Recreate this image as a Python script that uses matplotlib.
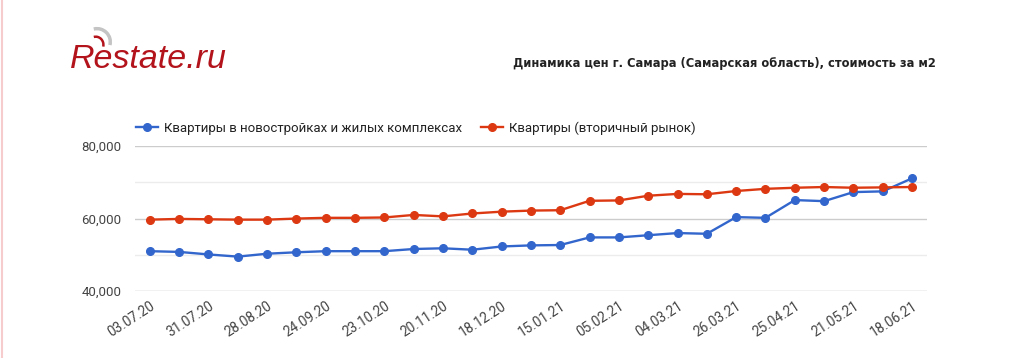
import matplotlib.pyplot as plt
from matplotlib.patches import Arc
from matplotlib.lines import Line2D

# Data (руб. за м2)
dates = ['03.07.20', '', '31.07.20', '', '28.08.20', '', '24.09.20', '', '23.10.20', '',
         '20.11.20', '', '18.12.20', '', '15.01.21', '', '05.02.21', '', '04.03.21', '',
         '26.03.21', '', '25.04.21', '', '21.05.21', '', '18.06.21']
new_flats = [51000, 50800, 50100, 49500, 50300, 50700, 51000, 51000, 51000, 51600,
             51800, 51400, 52300, 52600, 52700, 54800, 54800, 55400, 56000, 55800,
             60400, 60200, 65100, 64800, 67300, 67500, 71100]
resale = [59700, 59900, 59800, 59700, 59700, 60000, 60200, 60200, 60300, 61000,
          60600, 61400, 61900, 62200, 62300, 64900, 65000, 66300, 66800, 66700,
          67600, 68200, 68500, 68700, 68500, 68600, 68700]

blue = '#3366cc'
red = '#dc3912'
x = list(range(len(new_flats)))

fig = plt.figure(figsize=(10.24, 3.58), dpi=100)
ax = fig.add_axes([0.132, 0.187, 0.773, 0.405])

# gridlines
for v in [50000, 70000]:
    ax.axhline(v, color='#ececec', lw=1, zorder=0)
for v in [60000, 80000]:
    ax.axhline(v, color='#cccccc', lw=1, zorder=0)
ax.axhline(40000, color='#bbbbbb', lw=1, zorder=0)

ax.plot(x, new_flats, color=blue, lw=1.7, marker='o', ms=5.5,
        label='Квартиры в новостройках и жилых комплексах')
ax.plot(x, resale, color=red, lw=1.7, marker='o', ms=5.5,
        label='Квартиры (вторичный рынок)')

ax.set_xlim(-0.5, len(x) - 0.5)
ax.set_ylim(40000, 80000)
ax.set_yticks([40000, 60000, 80000])
ax.set_yticklabels(['40,000', '60,000', '80,000'], fontsize=9.5, color='#444444',
                   family='Roboto')
ax.set_xticks(x)
ax.set_xticklabels(dates, rotation=33, ha='right', va='top', rotation_mode='anchor',
                   fontsize=9.8, color='#444444', family='Roboto')
ax.tick_params(length=0, pad=6)
ax.tick_params(axis='y', pad=10)
for s in ax.spines.values():
    s.set_visible(False)

leg = ax.legend(loc='lower left', bbox_to_anchor=(-0.005, 1.04), ncol=2, frameon=False,
                prop={'family': 'Roboto', 'size': 9.5}, handlelength=1.6,
                handletextpad=0.45, columnspacing=1.5, borderaxespad=0)
for t in leg.get_texts():
    t.set_color('#222222')

# title
fig.text(0.914, 0.823, 'Динамика цен г. Самара (Самарская область), стоимость за м2',
         ha='right', va='center', fontsize=9.2, fontweight='bold', color='#222222',
         family=['Liberation Sans Narrow', 'DejaVu Sans'], fontstretch='condensed')

# logo
fig.text(0.068, 0.81, 'Restate.ru', ha='left', va='baseline', fontsize=24.5,
         style='italic', color='#b3141c', family='Liberation Sans')
fig.patches.append(Arc((0.0947, 0.883), 0.026, 0.074, theta1=-35, theta2=95,
                       transform=fig.transFigure, color='#c4c4c4', lw=2.5))
fig.patches.append(Arc((0.0935, 0.875), 0.015, 0.045, theta1=-35, theta2=95,
                       transform=fig.transFigure, color='#b3141c', lw=1.8))

# thin pink border on the left
fig.lines.append(Line2D([0.002, 0.002], [0, 1], transform=fig.transFigure,
                        color='#f6cccc', lw=1.5))

plt.savefig('out.png', dpi=100)
